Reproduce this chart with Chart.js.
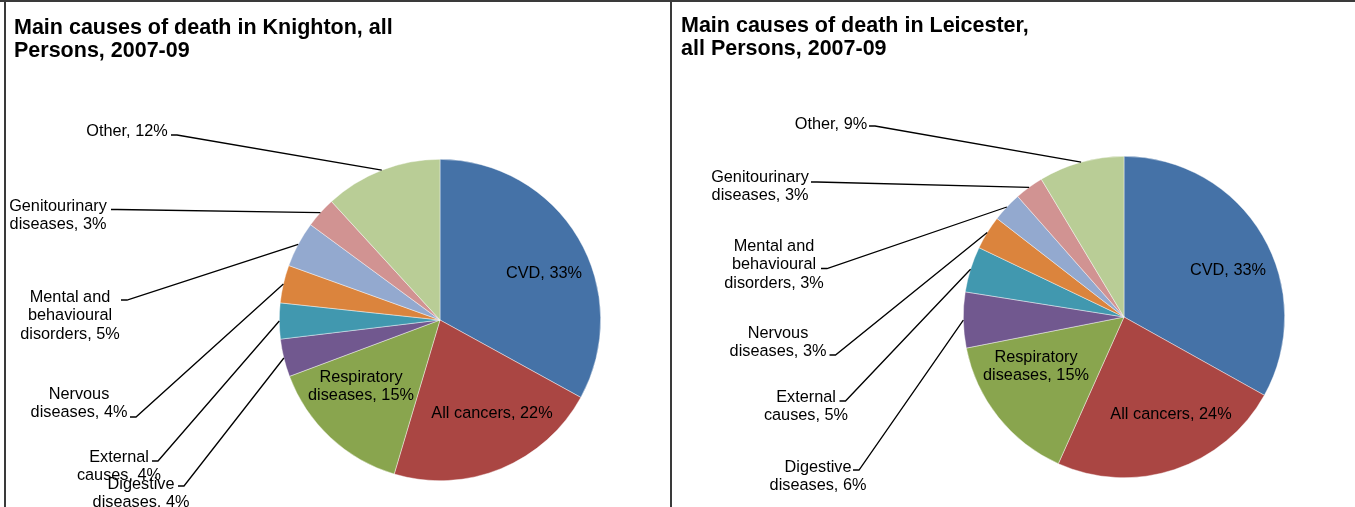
<!DOCTYPE html>
<html>
<head>
<meta charset="utf-8">
<script src="https://cdn.jsdelivr.net/npm/chart.js@4.4.1/dist/chart.umd.min.js"></script>
<style>
    body { margin: 0; background: #fff; }
    #wrap { position: relative; width: 1355px; height: 507px; overflow: hidden; }
    canvas { position: absolute; top: 0; }
    .rule { position: absolute; background: #3a3a3a; }
</style>
</head>
<body>
<div id="wrap">
    <canvas id="knighton" width="670" height="507" style="left:0"></canvas>
    <canvas id="leicester" width="683" height="507" style="left:672px"></canvas>
    <div class="rule" style="left:0;top:0;width:1355px;height:2px"></div>
    <div class="rule" style="left:4px;top:0;width:2px;height:507px"></div>
    <div class="rule" style="left:670px;top:0;width:2px;height:507px"></div>
</div>
<script>
// categories (each one split into the lines it is printed on)
const causes = [
    ['CVD'],
    ['All cancers'],
    ['Respiratory', 'diseases'],
    ['Digestive', 'diseases'],
    ['External', 'causes'],
    ['Nervous', 'diseases'],
    ['Mental and', 'behavioural', 'disorders'],
    ['Genitourinary', 'diseases'],
    ['Other']
];

// share of deaths, %
const knightonShare = [33.0, 21.6, 14.7, 3.8, 3.6, 3.8, 4.6, 3.1, 11.8];
const leicesterShare = [33.1, 23.6, 15.2, 5.6, 4.6, 3.4, 3.0, 2.9, 8.6];

const knightonTitle = ['Main causes of death in Knighton, all', 'Persons, 2007-09'];
const leicesterTitle = ['Main causes of death in Leicester,', 'all Persons, 2007-09'];

const sliceColours = ['#4572A7', '#AA4643', '#89A54E', '#71588F', '#4198AF',
                      '#DB843D', '#93A9CF', '#D19392', '#B9CD96'];

// label placement: centre x, centre y of first line, leader start (outside labels only)
const knightonPlaces = [
    { x: 544, y: 272 },
    { x: 492, y: 412 },
    { x: 361, y: 376 },
    { x: 141, y: 483, stub: [178, 486] },
    { x: 119, y: 456, stub: [152, 461] },
    { x: 79, y: 393, stub: [130, 417] },
    { x: 70, y: 296, stub: [121, 300] },
    { x: 58, y: 205, stub: [111, 209.5] },
    { x: 127, y: 130, stub: [171, 135] }
];
const leicesterPlaces = [
    { x: 556, y: 269 },
    { x: 499, y: 413 },
    { x: 364, y: 356 },
    { x: 146, y: 466, stub: [181, 470] },
    { x: 134, y: 396, stub: [167.5, 401] },
    { x: 106, y: 332, stub: [157.5, 355] },
    { x: 102, y: 245, stub: [149, 268.5] },
    { x: 88, y: 176, stub: [139, 182] },
    { x: 159, y: 123, stub: [197, 126] }
];

const FONT = '"Liberation Sans", Arial, sans-serif';

const pieLabels = {
    id: 'pieLabels',
    afterDatasetsDraw(chart, args, opts) {
        const ctx = chart.ctx;
        const values = chart.data.datasets[0].data;
        const total = values.reduce((a, b) => a + b, 0);
        const arcs = chart.getDatasetMeta(0).data;
        ctx.save();
        ctx.fillStyle = '#000';
        ctx.textBaseline = 'alphabetic';

        // title
        ctx.font = 'bold 21.5px ' + FONT;
        ctx.textAlign = 'left';
        opts.title.forEach((t, i) => {
            ctx.fillText(t, opts.titleAt[0], opts.titleAt[1] + i * 23 + 7.7);
        });

        // data labels and leader lines
        ctx.font = '16.3px ' + FONT;
        ctx.textAlign = 'center';
        ctx.strokeStyle = '#000';
        ctx.lineWidth = 1.3;
        arcs.forEach((arc, i) => {
            const place = opts.places[i];
            const lines = chart.data.labels[i].slice();
            lines[lines.length - 1] += ', ' + Math.round(values[i] / total * 100) + '%';
            lines.forEach((line, k) => {
                ctx.fillText(line, place.x, place.y + k * 18.6 + 5.8);
            });
            if (place.stub) {
                const p = arc.getProps(['x', 'y', 'startAngle', 'endAngle', 'outerRadius'], true);
                const mid = (p.startAngle + p.endAngle) / 2;
                const tx = p.x + Math.cos(mid) * p.outerRadius;
                const ty = p.y + Math.sin(mid) * p.outerRadius;
                ctx.beginPath();
                ctx.moveTo(place.stub[0], place.stub[1]);
                ctx.lineTo(place.stub[0] + 6, place.stub[1]);
                ctx.lineTo(tx, ty);
                ctx.stroke();
            }
        });
        ctx.restore();
    }
};

function makePie(id, shares, title, places, padding) {
    return new Chart(document.getElementById(id), {
        type: 'pie',
        data: {
            labels: causes,
            datasets: [{
                data: shares,
                backgroundColor: sliceColours,
                borderColor: 'rgba(255, 255, 255, 0.7)',
                borderWidth: 0.6
            }]
        },
        options: {
            responsive: false,
            animation: false,
            events: [],
            layout: { padding: padding },
            plugins: {
                legend: { display: false },
                tooltip: { enabled: false },
                pieLabels: { title: title, titleAt: title === knightonTitle ? [14, 26] : [9, 24], places: places }
            }
        },
        plugins: [pieLabels]
    });
}

makePie('knighton', knightonShare, knightonTitle, knightonPlaces,
    { left: 279, right: 69, top: 159, bottom: 26 });
makePie('leicester', leicesterShare, leicesterTitle, leicesterPlaces,
    { left: 291, right: 70, top: 156, bottom: 29 });
</script>
</body>
</html>
